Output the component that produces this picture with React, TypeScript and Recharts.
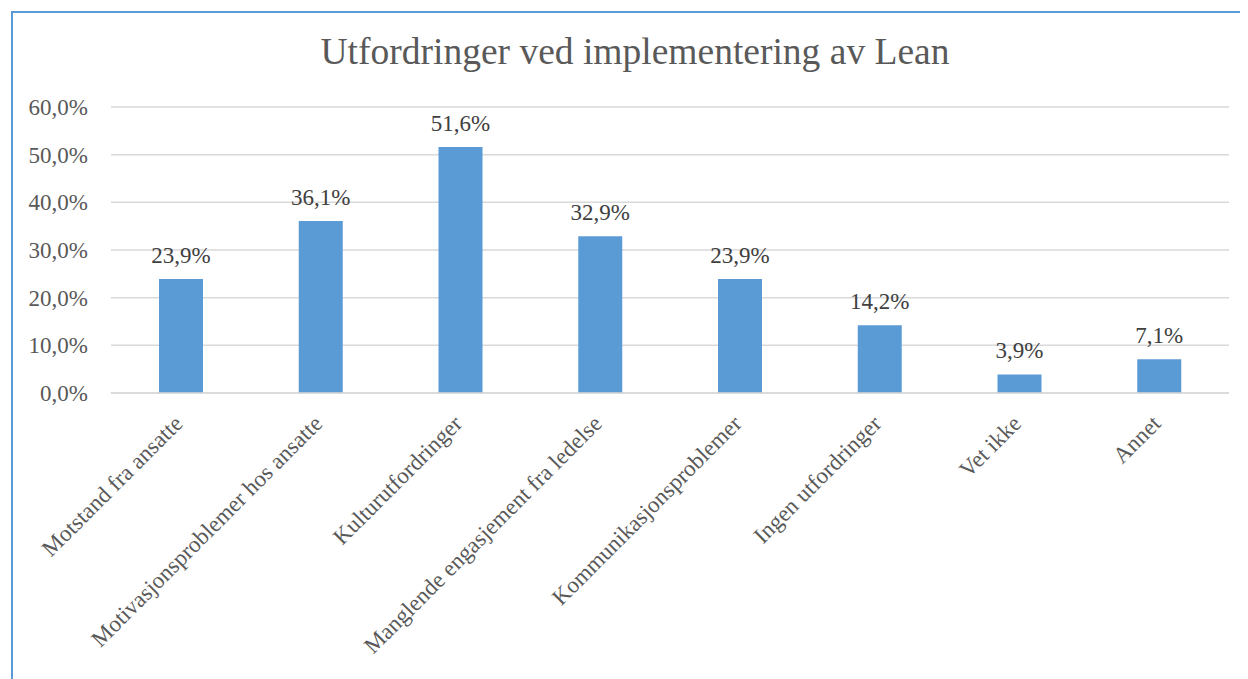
import { BarChart, Bar, XAxis, YAxis, CartesianGrid, LabelList } from 'recharts'

const categories = [
  'Motstand fra ansatte',
  'Motivasjonsproblemer hos ansatte',
  'Kulturutfordringer',
  'Manglende engasjement fra ledelse',
  'Kommunikasjonsproblemer',
  'Ingen utfordringer',
  'Vet ikke',
  'Annet',
]
const shares = [23.9, 36.1, 51.6, 32.9, 23.9, 14.2, 3.9, 7.1]
const yTicks = [0, 10, 20, 30, 40, 50, 60]

const data = categories.map((name, i) => ({ name, value: shares[i] }))

const FONT = "'Liberation Serif', 'Times New Roman', serif"
const pct = (v: number) => `${v.toFixed(1).replace('.', ',')}%`

// eslint-disable-next-line @typescript-eslint/no-explicit-any
function CategoryTick({ x, y, payload }: any) {
  const tx = x + 3
  const ty = y + 24
  return (
    <text
      x={tx}
      y={ty}
      transform={`rotate(-45, ${tx}, ${ty})`}
      textAnchor="end"
      style={{ fontSize: 23, fontFamily: FONT, fill: '#595959' }}
    >
      {payload.value}
    </text>
  )
}

export default function App() {
  return (
    <div style={{ position: 'relative', width: 1240, height: 671 }}>
      <div
        style={{
          position: 'absolute',
          left: 3,
          top: 3,
          width: 1300,
          height: 700,
          borderLeft: '2px solid #5B9BD5',
          borderTop: '2px solid #5B9BD5',
        }}
      />
      <div
        style={{
          position: 'absolute',
          left: 0,
          top: 22,
          width: 1254,
          textAlign: 'center',
          fontFamily: FONT,
          fontSize: 37.5,
          color: '#595959',
        }}
      >
        Utfordringer ved implementering av Lean
      </div>
      <div style={{ position: 'absolute', left: 0, top: 0 }}>
        <BarChart
          width={1240}
          height={671}
          data={data}
          margin={{ top: 99, right: 19, left: 0, bottom: 0 }}
        >
          <CartesianGrid vertical={false} stroke="#D9D9D9" strokeWidth={1.5} />
          <XAxis
            dataKey="name"
            interval={0}
            height={286}
            tickLine={false}
            axisLine={{ stroke: '#D9D9D9', strokeWidth: 1.5 }}
            tick={<CategoryTick />}
          />
          <YAxis
            domain={[0, 60]}
            ticks={yTicks}
            width={103}
            tickLine={false}
            axisLine={false}
            tickSize={0}
            tickMargin={23}
            tickFormatter={pct}
            tick={{ style: { fontSize: 23, fontFamily: FONT, fill: '#595959' } }}
          />
          <Bar dataKey="value" fill="#5B9BD5" barSize={44} isAnimationActive={false}>
            <LabelList
              dataKey="value"
              position="top"
              offset={16}
              formatter={(v: any) => pct(Number(v))}
              style={{ fontSize: 23, fontFamily: FONT, fill: '#404040' }}
            />
          </Bar>
        </BarChart>
      </div>
    </div>
  )
}
